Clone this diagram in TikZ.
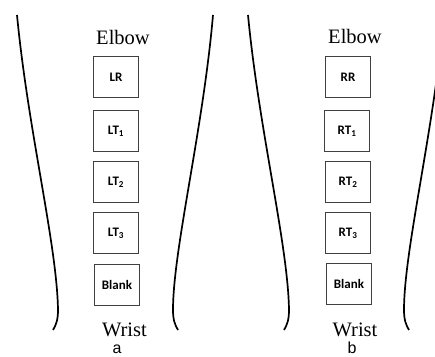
\documentclass[tikz,border=0pt]{standalone}
\usepackage{fontspec}
\setmainfont{Liberation Serif}
\newfontfamily\padfont{Carlito}
\newfontfamily\letterfont{Liberation Sans}

\tikzset{
  arm/.style={line width=1.7pt},
  pad/.style={draw=black!75,line width=1.1pt,minimum width=45pt,minimum height=41pt,
    inner sep=0pt,font=\padfont\bfseries\fontsize{13}{13}\selectfont},
  place/.style={anchor=base,font=\fontsize{20.5}{20.5}\selectfont},
  tag/.style={anchor=base,font=\letterfont\fontsize{16}{16}\selectfont}
}

\begin{document}
\begin{tikzpicture}[x=1pt,y=-1pt]
  \useasboundingbox (0,0) rectangle (435,356);
  \clip (0,0) rectangle (435,356);

  % outline of the two forearms
  \draw[arm] (17,15) .. controls (28,130) and (57,245) .. (58,310) .. controls (58,320) and (56,325) .. (53,330);
  \draw[arm] (213,15) .. controls (203,130) and (173,250) .. (173,310) .. controls (173,320) and (175,325) .. (178,330);
  \begin{scope}[xshift=231pt]
    \draw[arm] (17,15) .. controls (28,130) and (57,245) .. (58,310) .. controls (58,320) and (56,325) .. (53,330);
    \draw[arm] (213,15) .. controls (203,130) and (173,250) .. (173,310) .. controls (173,320) and (175,325) .. (178,330);
  \end{scope}

  % left arm
  \node[place] (elbowa) at (123,44) {Elbow};
  \node[pad] (lr) at (116,77) {LR};
  \node[pad] (lt1) at (116,131) {LT\textsubscript{1}};
  \node[pad] (lt2) at (116,182) {LT\textsubscript{2}};
  \node[pad] (lt3) at (116,233) {LT\textsubscript{3}};
  \node[pad] (lblank) at (117,285) {Blank};
  \node[place] (wrista) at (124.5,336) {Wrist};
  \node[tag] (taga) at (117,353) {a};

  % right arm
  \node[place] (elbowb) at (355,43) {Elbow};
  \node[pad] (rr) at (348,77) {RR};
  \node[pad] (rt1) at (347,131) {RT\textsubscript{1}};
  \node[pad] (rt2) at (348,182) {RT\textsubscript{2}};
  \node[pad] (rt3) at (348,233) {RT\textsubscript{3}};
  \node[pad] (rblank) at (349,284) {Blank};
  \node[place] (wristb) at (355,336) {Wrist};
  \node[tag] (tagb) at (352,353) {b};
\end{tikzpicture}
\end{document}
